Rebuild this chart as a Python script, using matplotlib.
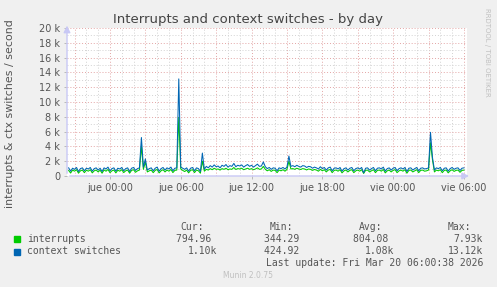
import numpy as np
import matplotlib
matplotlib.use("Agg")
import matplotlib.pyplot as plt
from matplotlib.patches import Rectangle

# muestras cada 10 minutos, horas relativas a jue 00:00
t_inicio = -3.5
paso = 1 / 6

# context switches / s
ctx = [1100, 650, 1050, 900, 1150, 600, 1000, 1100, 700, 1050,
       950, 1150, 650, 1000, 1100, 800, 1050, 600, 1100, 950,
       1200, 700, 1000, 1100, 650, 1050, 950, 1150, 700, 1000,
       1100, 600, 1050, 1150, 750, 1000, 1100,
       5200, 1200, 2300,
       800, 1000, 1100, 700, 1050, 1200, 650, 1000, 1150, 800,
       1100, 950, 1200, 700, 1050, 1100,
       13120, 1200,
       1050, 900, 1100, 650, 1050, 1150, 700, 1100, 1000, 600,
       3100, 900,
       1300, 1100, 1400, 1200, 1500, 1250, 1350, 1100, 1450, 1300,
       1550, 1200, 1400, 1300, 1700, 1250, 1450, 1350, 1500, 1200,
       1400, 1550, 1300, 1450, 1200, 1400, 1600, 1300, 1350, 1900,
       1250, 1000, 1150, 900, 1100, 1050, 700, 1100, 1000, 1150,
       950, 1200,
       2700, 1300,
       1400, 1250, 1450, 1300, 1200, 1400, 1350, 1150, 1300, 1250,
       1050, 1200, 1100, 950, 1250, 1000, 1150, 800, 1100, 1200,
       700, 1050, 1100, 950, 1150, 650, 1000, 1100, 800, 1050,
       1150, 700, 1000, 1100, 950, 1150, 425, 1050, 1100, 800,
       1000, 1150, 700, 1050, 1100, 950, 1200, 650, 1000, 1100,
       800, 1050, 1150, 700, 1000, 1100, 950, 1150, 600, 1050,
       1100, 800, 1000, 1150, 700, 1050, 1100, 950, 1000, 1100,
       5900, 2500,
       800, 1100, 1000, 1150, 700, 1050, 1100, 650, 1000, 1150,
       900, 1050, 1100, 750, 1050, 1100]

# interrupts / s
irq = [750, 400, 800, 650, 850, 380, 700, 800, 450, 780,
       650, 850, 420, 700, 800, 550, 780, 380, 820, 650,
       880, 450, 700, 800, 420, 780, 650, 850, 460, 700,
       800, 380, 760, 850, 500, 700, 800,
       4000, 900, 1900,
       550, 700, 800, 450, 760, 880, 420, 700, 850, 550,
       800, 650, 880, 460, 760, 800,
       7930, 950,
       760, 600, 800, 420, 760, 850, 460, 800, 700, 380,
       2000, 650,
       900, 800, 1000, 850, 1050, 900, 950, 800, 1000, 900,
       1050, 850, 950, 900, 1150, 880, 1000, 950, 1050, 850,
       950, 1050, 900, 1000, 850, 950, 1100, 900, 950, 1300,
       900, 700, 850, 620, 800, 760, 450, 800, 700, 850,
       650, 880,
       2000, 950,
       1000, 900, 1050, 950, 880, 1000, 950, 820, 950, 900,
       760, 880, 800, 650, 900, 700, 850, 550, 800, 880,
       450, 760, 800, 650, 850, 420, 700, 800, 550, 760,
       850, 450, 700, 800, 650, 850, 344, 760, 800, 550,
       700, 850, 450, 760, 800, 650, 880, 420, 700, 800,
       550, 760, 850, 450, 700, 800, 650, 850, 380, 760,
       800, 550, 700, 850, 450, 760, 800, 650, 700, 800,
       4500, 2200,
       550, 800, 700, 850, 450, 760, 800, 420, 700, 850,
       620, 760, 800, 500, 760, 795]

horas = t_inicio + np.arange(len(ctx)) * paso

x_ticks = [0, 6, 12, 18, 24, 30]
x_labels = ["jue 00:00", "jue 06:00", "jue 12:00", "jue 18:00", "vie 00:00", "vie 06:00"]
y_ticks = list(range(0, 20001, 2000))
y_labels = ["0"] + ["%d k" % (v // 1000) for v in y_ticks[1:]]

leyenda = [("interrupts", "#00CC00", "794.96 ", "344.29 ", "804.08 ", "7.93k"),
           ("context switches", "#0066B3", "1.10k", "424.92 ", "1.08k", "13.12k")]

W, H = 497, 287
fondo = "#F0F0F0"
gris_txt = "#555555"


def fx(x):
    return x / W


def fy(y):
    return 1 - y / H


fig = plt.figure(figsize=(W / 100, H / 100), dpi=100, facecolor=fondo)
ax = fig.add_axes([fx(67), fy(176), 400 / W, 148 / H])
ax.set_facecolor("white")

ax.set_xlim(-3.64, 30.26)
ax.set_ylim(0, 20000)

# rejilla: menor gris, mayor roja
for h in np.arange(-3, 31, 1):
    c = "#E3A5A5" if h % 3 == 0 else "#D2D2D2"
    ax.axvline(h, color=c, lw=0.7, ls=(0, (1, 2)), zorder=1)
for v in range(1000, 20001, 1000):
    c = "#E3A5A5" if v % 2000 == 0 else "#D2D2D2"
    ax.axhline(v, color=c, lw=0.7, ls=(0, (1, 2)), zorder=1)

ax.plot(horas, irq, color="#00CC00", lw=0.75, zorder=3)
ax.plot(horas, ctx, color="#0066B3", lw=0.75, zorder=4)

for s in ax.spines.values():
    s.set_visible(False)

ax.set_xticks(x_ticks)
ax.set_xticklabels(x_labels)
ax.set_yticks(y_ticks)
ax.set_yticklabels(y_labels)
ax.tick_params(axis="both", length=2, width=0.6, color="#B0B0B0",
               labelsize=7, labelcolor=gris_txt, pad=3)

# ejes con flecha
flecha = dict(arrowstyle="-|>,head_length=0.4,head_width=0.2", color="#C8C8F5", lw=1)
ax.annotate("", xy=(1.012, 0), xytext=(0, 0), xycoords="axes fraction",
            arrowprops=flecha, annotation_clip=False, zorder=5)
ax.annotate("", xy=(0, 1.035), xytext=(0, 0), xycoords="axes fraction",
            arrowprops=flecha, annotation_clip=False, zorder=5)

fig.text(fx(248), fy(19), "Interrupts and context switches - by day",
         ha="center", va="center", fontsize=9.5, color="#444444")
fig.text(fx(10), fy(114), "interrupts & ctx switches / second", rotation=90,
         ha="center", va="center", fontsize=7.9, color=gris_txt)
fig.text(fx(487), fy(52), "RRDTOOL / TOBI OETIKER", rotation=270,
         ha="center", va="center", fontsize=5, color="#C0C0C0")

mono = "DejaVu Sans Mono"
for txt, x in [("Cur:", 204), ("Min:", 293), ("Avg:", 382), ("Max:", 471)]:
    fig.text(fx(x), fy(227), txt, ha="right", va="center",
             family=mono, fontsize=7, color=gris_txt)

for k, (nombre, color, cur, mn, avg, mx) in enumerate(leyenda):
    y = 239 + 12.5 * k
    fig.add_artist(Rectangle((fx(14), fy(y + 3)), 6 / W, 6 / H,
                             transform=fig.transFigure, color=color))
    fig.text(fx(27), fy(y), nombre, ha="left", va="center",
             family=mono, fontsize=7, color=gris_txt)
    for val, x in [(cur, 217), (mn, 305), (avg, 394), (mx, 483)]:
        fig.text(fx(x), fy(y), val, ha="right", va="center",
                 family=mono, fontsize=7, color=gris_txt)

fig.text(fx(483), fy(263.5), "Last update: Fri Mar 20 06:00:38 2026",
         ha="right", va="center", family=mono, fontsize=7, color=gris_txt)
fig.text(fx(248), fy(276), "Munin 2.0.75", ha="center", va="center",
         fontsize=5.5, color="#C0C0C0")

fig.savefig("out.png", dpi=100, facecolor=fondo)
